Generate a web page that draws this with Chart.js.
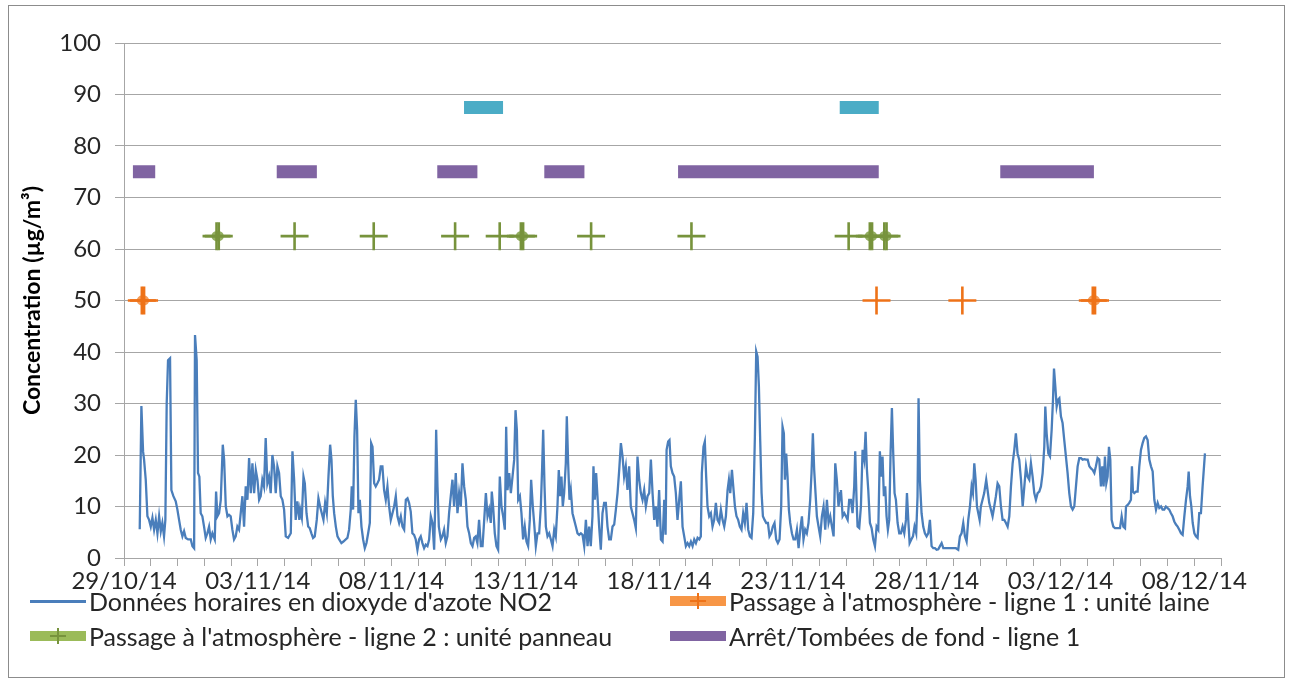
<!DOCTYPE html>
<html>
<head>
<meta charset="utf-8">
<script src="https://cdn.jsdelivr.net/npm/chart.js@4.4.1/dist/chart.umd.min.js"></script>
<style>
html, body { margin: 0; padding: 0; background: #fff; }
#wrap { position: relative; width: 1290px; height: 684px; overflow: hidden; font-family: Lato, sans-serif; }
#frame { position: absolute; left: 8px; top: 5px; width: 1275px; height: 671px; border: 1px solid #8c8c8c; }
canvas { position: absolute; left: 0; top: 0; }
.leg { position: absolute; font-size: 25px; line-height: 30px; color: #262626; white-space: nowrap; }
.sw { position: absolute; }
</style>
</head>
<body>
<div id="wrap">
  <div id="frame"></div>
  <canvas id="c" width="1290" height="684"></canvas>
  <div id="legend"></div>
</div>
<script>
// heures depuis le 29/10/14 00:00 et concentrations NO2 (µg/m3)
const no2Hours = [
  // 30/10 - 04/11
  14.1,15.6,17.1,18.0,19.5,21.0,22.5,24.0,25.5,27.0,
  28.5,30.0,31.5,33.0,34.4,35.9,37.1,38.3,39.5,41.3,
  42.5,44.3,46.4,47.9,49.4,50.9,52.4,53.9,55.4,57.5,
  59.9,61.4,62.9,63.7,65.2,66.4,67.6,68.8,70.3,71.8,
  73.3,74.8,76.3,77.8,79.3,81.4,82.6,83.8,85.3,86.8,
  88.6,89.8,91.3,92.8,94.2,95.7,97.2,98.7,100.2,101.7,
  103.2,104.7,106.2,107.7,109.2,110.7,112.2,113.7,115.2,116.7,
  118.2,119.7,121.2,122.6,124.1,125.6,127.1,128.6,130.1,131.6,
  133.1,134.6,136.1,137.6,139.1,140.6,142.1,143.6,145.1,147.2,
  149.6,151.1,152.6,154.0,155.5,157.3,
  // 05/11 - 11/11
  158.0,159.5,161.0,162.2,163.7,165.2,166.6,168.1,169.6,171.1,
  172.9,174.4,175.9,177.4,178.9,180.4,181.9,183.4,184.9,186.1,
  187.3,188.5,190.0,191.5,193.0,195.0,196.8,198.9,200.4,201.9,
  203.4,204.3,205.5,206.7,207.9,209.1,210.3,211.5,213.0,214.5,
  216.0,217.5,219.0,220.5,221.7,222.9,224.4,225.8,227.3,228.8,
  230.3,231.8,233.3,234.8,236.3,237.8,239.3,240.8,242.3,243.8,
  245.3,246.8,248.3,249.8,251.3,252.8,254.3,255.7,257.2,258.7,
  260.2,261.7,263.2,264.7,266.2,267.7,269.2,270.7,272.2,273.7,
  275.2,276.7,278.2,279.1,280.0,281.2,282.4,284.2,285.6,287.1,
  288.6,290.1,291.6,293.1,294.6,296.1,297.6,299.1,300.6,302.1,
  303.6,305.1,306.6,308.1,309.6,311.1,312.6,314.1,315.5,317.0,
  318.5,
  // 12/11 - 18/11
  320.1,321.6,323.1,324.6,326.1,327.5,329.0,329.9,331.1,332.6,
  334.1,335.6,337.1,338.6,340.1,341.6,342.8,344.0,345.5,347.0,
  348.5,350.0,351.2,352.4,353.6,355.1,356.5,358.0,359.5,361.0,
  362.5,364.0,365.2,366.7,367.9,369.4,370.9,372.4,373.9,375.1,
  376.0,377.2,378.4,379.9,381.4,382.9,384.4,385.9,387.3,388.8,
  390.0,391.2,392.4,393.6,394.8,396.3,397.2,398.4,399.6,400.8,
  402.3,403.8,405.3,406.8,408.3,409.8,411.3,412.8,414.3,415.8,
  417.2,418.7,420.2,421.1,422.3,423.5,424.7,426.2,427.7,429.2,
  430.7,432.2,433.7,435.2,436.7,438.2,439.7,441.2,442.7,444.2,
  445.7,447.2,448.6,450.1,451.6,453.1,454.6,456.1,457.6,459.1,
  460.6,462.1,463.6,465.1,466.6,468.1,469.6,471.1,472.6,474.1,
  475.6,477.0,478.5,480.0,
  // 19/11 - 25/11
  481.6,483.1,484.6,485.8,486.7,488.1,489.3,490.5,492.0,493.5,
  495.0,496.5,498.0,499.5,501.0,502.5,504.0,505.5,507.0,508.5,
  510.0,511.5,513.0,514.5,516.0,517.4,518.3,519.8,521.0,522.2,
  523.4,524.9,526.4,527.9,529.4,530.9,532.4,533.9,535.4,536.9,
  538.4,539.9,541.4,542.6,543.8,545.3,546.5,548.0,549.4,550.9,
  552.4,553.9,555.4,556.9,558.4,559.9,561.4,562.9,564.4,565.9,
  567.1,568.3,569.5,570.7,571.9,573.1,574.6,576.1,577.6,579.0,
  580.5,582.0,583.5,585.0,586.5,588.0,589.5,590.7,591.9,592.8,
  594.0,595.2,596.4,597.6,599.1,600.6,602.1,603.6,605.1,606.6,
  608.1,609.5,611.0,612.5,614.0,615.5,616.7,617.9,619.1,620.3,
  621.5,623.0,624.5,626.0,627.5,629.0,630.5,632.0,633.5,635.0,
  636.5,638.0,639.4,640.9,642.4,
  // 26/11 - 02/12
  643.1,644.6,646.1,647.6,649.1,650.5,652.0,653.5,655.0,655.9,
  657.1,658.0,659.5,661.0,662.5,664.0,665.2,666.4,667.6,669.1,
  670.6,672.1,673.6,675.1,676.6,678.0,679.2,680.4,681.6,682.8,
  684.0,685.2,686.4,687.6,688.8,690.0,691.2,692.4,693.9,695.4,
  696.9,698.4,699.9,701.4,702.3,703.5,704.7,706.2,707.7,709.1,
  710.6,711.8,712.7,713.9,715.4,716.9,718.4,719.9,721.4,722.9,
  724.4,725.9,727.4,728.9,730.4,731.9,733.4,734.9,737.3,740.2,
  743.2,746.2,748.3,749.8,751.3,752.8,754.3,755.8,757.3,758.8,
  760.3,761.5,762.7,763.9,765.1,766.3,767.5,768.6,770.1,771.6,
  773.4,774.6,776.1,777.6,779.1,780.6,782.1,783.6,785.1,786.6,
  788.1,789.6,791.1,792.6,794.1,795.6,797.1,798.6,800.0,801.5,
  803.0,
  // 03/12 - 08/12
  804.6,806.1,807.6,809.1,810.5,812.0,813.5,815.0,816.5,818.0,
  819.5,821.0,822.5,824.0,825.5,826.4,827.6,829.1,830.6,832.1,
  833.3,834.2,835.4,836.6,837.8,839.0,840.4,841.9,843.4,844.9,
  846.4,847.9,849.4,850.9,852.4,853.9,855.4,856.9,858.4,859.9,
  861.4,862.9,864.4,865.9,867.4,868.9,870.4,871.8,873.3,874.8,
  876.3,877.5,878.7,879.9,881.1,882.3,883.5,884.7,885.9,887.4,
  888.9,890.4,891.9,893.4,894.9,896.4,897.9,898.8,900.3,901.7,
  903.2,904.1,905.0,906.2,907.7,909.2,910.7,912.2,913.7,915.2,
  916.7,918.2,919.7,921.2,922.7,924.2,925.7,927.2,928.7,930.2,
  931.6,933.1,934.6,936.1,937.6,939.1,940.6,942.1,943.6,945.1,
  946.6,948.1,949.6,951.1,952.6,954.1,955.0,956.2,957.4,958.6,
  960.1,961.5,963.0,964.5,966.0,967.5,969.6
];

const no2Values = [
  // 30/10 - 04/11
  5.6,29.5,20.7,19.1,15.2,8.1,7.4,6.1,7.8,5.5,
  7.4,4.8,8.1,5.2,6.8,4.2,7.4,30.0,38.4,38.8,
  13.2,12.0,11.0,9.4,7.4,5.5,4.2,5.2,3.9,3.6,
  3.6,2.3,1.9,43.3,38.4,16.5,15.8,8.7,8.1,6.1,
  3.9,4.8,6.1,3.6,4.8,3.6,12.9,8.1,8.7,11.3,
  22.0,19.1,10.0,8.1,8.4,8.1,5.5,3.6,4.2,6.1,
  5.5,8.7,12.0,6.1,13.9,11.3,19.4,12.6,18.4,12.6,
  17.1,15.2,11.3,12.0,15.2,13.9,23.3,14.5,15.8,12.6,
  20.0,17.8,12.6,17.8,16.5,12.0,11.3,9.4,4.2,3.9,
  4.8,20.7,15.2,7.4,11.0,7.4,
  // 05/11 - 11/11
  9.4,7.8,15.8,14.5,8.7,6.1,5.8,4.8,3.9,4.2,
  7.4,11.6,10.0,8.7,7.4,10.7,8.7,15.8,22.0,19.1,
  12.0,8.7,6.1,4.2,3.6,2.9,3.2,3.6,3.9,5.5,
  9.4,13.9,9.4,23.6,30.7,24.9,8.7,11.3,6.1,3.6,
  1.9,2.9,4.8,6.8,22.3,21.6,14.5,13.9,14.5,15.2,
  17.8,17.8,13.2,11.3,13.9,10.0,7.4,8.7,10.0,12.0,
  8.1,6.8,8.1,6.1,5.5,11.3,11.6,10.7,9.0,4.8,
  4.5,3.6,1.6,3.6,4.2,2.9,1.9,2.6,2.3,3.6,
  8.1,6.8,1.6,10.0,24.9,13.9,6.1,3.6,4.2,5.5,
  2.9,4.2,8.7,12.0,15.2,10.0,16.5,8.7,12.6,10.0,
  18.4,13.9,11.3,6.1,4.8,2.9,2.3,3.9,4.2,2.9,
  7.4,
  // 12/11 - 18/11
  2.3,2.3,7.4,12.6,8.1,9.4,6.8,12.9,10.0,4.8,
  2.3,1.6,15.8,10.0,8.1,5.5,25.5,13.2,16.5,12.6,
  15.8,19.1,28.7,24.9,11.3,12.0,8.7,3.6,6.1,3.2,
  2.3,7.4,15.2,10.0,6.8,2.3,4.8,4.8,10.0,17.8,
  24.9,13.9,6.1,4.2,4.8,3.6,2.3,5.5,4.2,10.0,
  17.1,12.0,15.8,10.0,12.6,18.4,27.5,18.4,11.3,13.2,
  8.7,7.4,6.1,4.8,4.5,4.8,4.5,2.3,7.4,2.3,
  6.1,2.3,8.1,17.8,11.3,16.5,12.0,6.1,1.6,8.7,
  10.7,10.7,6.1,3.6,3.6,6.1,6.5,9.4,12.6,17.1,
  22.3,19.7,15.8,17.8,13.2,17.8,10.0,8.7,7.4,5.8,
  19.7,15.2,12.6,11.3,13.2,10.0,12.0,12.6,19.1,12.6,
  7.4,10.0,6.1,13.2,
  // 19/11 - 25/11
  3.6,3.2,11.3,4.5,21.0,22.6,22.9,17.8,16.5,15.8,
  12.6,7.4,11.3,14.9,6.1,4.2,2.3,2.9,2.3,3.2,
  2.3,3.6,2.9,3.9,3.6,4.2,16.5,21.6,22.6,15.8,
  10.0,8.1,8.7,6.1,7.4,10.7,7.4,6.8,9.4,7.4,
  6.1,8.1,13.2,15.2,12.6,17.1,13.9,10.0,8.1,7.4,
  6.1,5.5,8.7,6.8,10.7,5.5,4.2,3.9,8.7,23.6,
  40.1,39.1,33.3,22.6,12.6,8.1,7.4,6.8,6.8,4.2,
  4.8,6.1,6.8,3.6,2.9,3.6,10.0,25.5,24.2,15.2,
  20.3,15.8,9.4,6.8,4.8,3.6,3.6,5.5,1.9,5.5,
  8.1,3.6,5.5,4.8,6.8,11.3,16.5,24.2,17.1,12.6,
  8.1,6.1,4.2,8.1,10.0,5.5,11.3,6.8,8.1,6.1,
  4.2,18.4,15.2,10.0,12.6,
  // 26/11 - 02/12
  13.2,8.1,8.7,8.1,7.4,11.3,11.3,8.7,13.9,20.7,
  11.3,6.1,5.8,10.0,21.0,19.1,24.5,17.1,13.2,6.8,
  5.8,3.6,2.3,6.1,5.5,20.7,15.8,19.7,12.0,13.9,
  8.1,5.5,7.4,20.3,29.1,20.3,12.6,11.3,6.8,4.8,
  4.8,6.1,4.8,7.4,12.6,7.4,2.9,3.6,4.2,6.1,
  4.8,12.0,31.0,15.2,8.7,6.1,4.8,4.2,4.8,7.4,
  2.3,1.9,1.9,1.6,1.7,2.3,2.9,1.9,1.9,1.9,
  1.9,1.9,1.6,4.2,4.8,6.8,4.2,3.2,7.4,10.0,
  13.9,12.6,18.4,15.2,10.0,8.7,7.4,10.0,11.3,12.6,
  15.2,13.2,10.7,9.4,8.1,10.0,12.0,14.5,13.9,10.0,
  7.4,7.4,6.8,6.1,8.1,13.9,18.4,21.0,24.2,20.3,
  19.1,
  // 03/12 - 08/12
  15.2,10.0,13.9,17.8,15.8,15.2,18.4,15.8,12.6,11.3,
  12.6,12.9,13.9,16.5,21.6,29.4,24.2,20.3,19.7,24.9,
  30.7,36.8,33.3,29.4,30.7,31.0,27.5,26.2,22.9,19.7,
  16.5,12.6,10.0,9.4,10.0,13.9,17.8,19.4,19.4,19.1,
  19.2,19.1,19.1,17.8,17.4,17.1,16.5,17.8,19.4,19.1,
  13.9,17.8,13.9,19.7,14.5,15.8,21.6,19.1,7.4,6.1,
  5.8,5.8,5.8,5.8,8.1,6.1,5.8,10.0,10.3,10.7,
  11.3,17.8,12.9,12.6,12.9,12.9,17.8,21.0,22.3,23.3,
  23.6,22.9,19.1,17.8,16.8,11.3,9.4,10.7,9.7,10.0,
  9.4,9.4,10.0,9.7,9.4,8.7,8.1,7.1,6.5,6.1,
  5.5,4.8,4.5,8.1,11.3,13.9,16.8,12.0,10.0,6.8,
  4.8,4.2,3.9,8.7,8.7,13.9,20.3
];

// passages à l'atmosphère (heures) et niveaux d'affichage
const ligne1Hours = [16, 18, 675, 752, 869, 871];
const ligne1Level = 50;
const ligne2Hours = [83, 85, 153, 224, 297, 337, 356, 358, 419, 509, 650, 669, 671, 682, 684];
const ligne2Level = 62.5;

// arrêts / tombées de fond (début, fin en heures)
const arret1Start = [8, 137, 281, 377, 497, 786];
const arret1End = [28, 173, 317, 413, 677, 870];
const arret1Level = 75;
const arret2Start = [305, 642];
const arret2End = [340, 677];
const arret2Level = 87.5;

const xTickDays = [0, 5, 10, 15, 20, 25, 30, 35, 40];
const yTicks = [0, 10, 20, 30, 40, 50, 60, 70, 80, 90, 100];

const legendLabels = [
  "Données horaires en dioxyde d'azote NO2",
  "Passage à l'atmosphère - ligne 1 : unité laine",
  "Passage à l'atmosphère - ligne 2 : unité panneau",
  "Arrêt/Tombées de fond - ligne 1"
];

const FONT = 'Lato';

function fmtDate(h) {
  const d = new Date(2014, 9, 29 + Math.round(h / 24));
  const p = n => String(n).padStart(2, '0');
  return p(d.getDate()) + '/' + p(d.getMonth() + 1) + '/' + p(d.getFullYear() % 100);
}

// markers only
function markPoints(hours, level) {
  return hours.map(h => ({ x: h, y: level }));
}

// thick segments only where two passages are (almost) consecutive
function pairPoints(hours, level, maxGap) {
  const pts = [];
  for (let i = 1; i < hours.length; i++) {
    if (hours[i] - hours[i - 1] <= maxGap) {
      if (pts.length) pts.push({ x: hours[i - 1] - 1, y: null });
      pts.push({ x: hours[i - 1], y: level }, { x: hours[i], y: level });
    }
  }
  return pts;
}

function barPoints(starts, ends, level) {
  const pts = [];
  starts.forEach((s, i) => {
    if (i > 0) pts.push({ x: (s + ends[i - 1]) / 2, y: null });
    pts.push({ x: s, y: level }, { x: ends[i], y: level });
  });
  return pts;
}

const gridColor = '#a6a6a6';
const crossStyle = { pointStyle: 'cross', pointRadius: 14, pointBorderWidth: 2.6, showLine: false };

new Chart(document.getElementById('c'), {
  type: 'line',
  data: {
    datasets: [
      {
        data: no2Hours.map((h, i) => ({ x: h, y: no2Values[i] })),
        borderColor: '#4a7ebb', borderWidth: 2.3, pointRadius: 0, tension: 0
      },
      Object.assign({
        data: markPoints(ligne1Hours, ligne1Level),
        pointBorderColor: '#ee7218', pointBackgroundColor: '#ee7218'
      }, crossStyle),
      {
        data: pairPoints(ligne1Hours, ligne1Level, 4),
        borderColor: 'rgba(243,140,60,0.85)', borderWidth: 10, borderCapStyle: 'round',
        pointRadius: 0, spanGaps: false
      },
      Object.assign({
        data: markPoints(ligne2Hours, ligne2Level),
        pointBorderColor: '#77933c', pointBackgroundColor: '#77933c'
      }, crossStyle),
      {
        data: pairPoints(ligne2Hours, ligne2Level, 4),
        borderColor: 'rgba(128,160,70,0.85)', borderWidth: 10, borderCapStyle: 'round',
        pointRadius: 0, spanGaps: false
      },
      {
        data: barPoints(arret1Start, arret1End, arret1Level),
        borderColor: '#8064a2', borderWidth: 13, pointRadius: 0, spanGaps: false
      },
      {
        data: barPoints(arret2Start, arret2End, arret2Level),
        borderColor: '#4bacc6', borderWidth: 13, pointRadius: 0, spanGaps: false
      }
    ]
  },
  options: {
    responsive: false,
    animation: false,
    layout: { padding: { left: 0, top: 43, right: 69, bottom: 80 } },
    plugins: { legend: { display: false }, tooltip: { enabled: false } },
    scales: {
      x: {
        type: 'linear', min: 0, max: 984,
        afterBuildTicks: s => {
          const t = [];
          for (let h = 0; h <= 984; h += 24) t.push({ value: h });
          s.ticks = t;
        },
        ticks: {
          autoSkip: false, maxRotation: 0, padding: 1, color: '#262626',
          font: { family: FONT, size: 24 },
          callback: v => xTickDays.includes(v / 24) ? fmtDate(v) : ''
        },
        grid: { drawOnChartArea: false, drawTicks: true, tickLength: 8, color: gridColor },
        border: { color: gridColor },
        afterFit: s => { s.height = 46; }
      },
      y: {
        min: 0, max: 100,
        afterBuildTicks: s => { s.ticks = yTicks.map(v => ({ value: v })); },
        ticks: { padding: 14, color: '#262626', font: { family: FONT, size: 24 } },
        grid: { color: gridColor, tickLength: 9 },
        border: { color: gridColor },
        title: {
          display: true, text: 'Concentration (µg/m³)', color: '#000',
          font: { family: FONT, size: 23, weight: 'bold' }, padding: { top: 19, bottom: 0 }
        },
        afterFit: s => { s.width = 124; }
      }
    }
  }
});

// légende en deux colonnes
const legend = document.getElementById('legend');
const rows = [601, 636];
const cols = [30, 670];
const items = [
  { kind: 'line', color: '#4a7ebb' },
  { kind: 'mark', color: '#f79646', mark: '#ee7218' },
  { kind: 'mark', color: '#9bbb59', mark: '#77933c' },
  { kind: 'bar', color: '#8064a2' }
];
items.forEach((it, i) => {
  const cx = cols[i % 2], cy = rows[Math.floor(i / 2)];
  const w = 56;
  const sw = document.createElement('div');
  sw.className = 'sw';
  const th = it.kind === 'line' ? 3 : 10;
  sw.style.cssText = `left:${cx}px;top:${cy - th / 2}px;width:${w}px;height:${th}px;background:${it.color};`;
  legend.appendChild(sw);
  if (it.kind === 'mark') {
    const v = document.createElement('div');
    v.className = 'sw';
    v.style.cssText = `left:${cx + w / 2 - 1}px;top:${cy - 8}px;width:2px;height:16px;background:${it.mark};`;
    const hz = document.createElement('div');
    hz.className = 'sw';
    hz.style.cssText = `left:${cx + w / 2 - 8}px;top:${cy - 1}px;width:16px;height:2px;background:${it.mark};`;
    legend.appendChild(v);
    legend.appendChild(hz);
  }
  const t = document.createElement('div');
  t.className = 'leg';
  t.textContent = legendLabels[i];
  t.style.left = (cx + w + 3) + 'px';
  t.style.top = (cy - 15) + 'px';
  legend.appendChild(t);
});
</script>
</body>
</html>
